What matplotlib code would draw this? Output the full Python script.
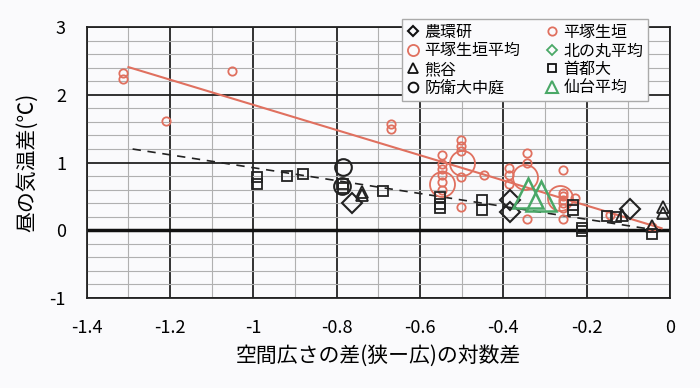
import matplotlib.pyplot as plt
from matplotlib.lines import Line2D
from matplotlib.ticker import MultipleLocator

plt.rcParams['font.family'] = ['Noto Sans CJK JP', 'DejaVu Sans']

# 平塚生垣 (small red circles)
hira_x = [-1.313, -1.313, -1.21, -1.051, -0.67, -0.67,
          -0.547, -0.547, -0.547, -0.547, -0.547, -0.547,
          -0.502, -0.502, -0.502, -0.502, -0.502, -0.446,
          -0.386, -0.386, -0.386, -0.343, -0.343, -0.343,
          -0.257, -0.257, -0.257, -0.257, -0.257, -0.257, -0.257, -0.228,
          -0.145, -0.043]
hira_y = [2.33, 2.24, 1.62, 2.35, 1.57, 1.50,
          1.11, 0.98, 0.90, 0.82, 0.71, 0.60,
          1.33, 1.25, 1.17, 0.78, 0.34, 0.81,
          0.92, 0.81, 0.69, 1.14, 1.00, 0.16,
          0.89, 0.55, 0.50, 0.45, 0.40, 0.33, 0.16, 0.47,
          0.22, 0.05]

# 平塚生垣平均 (large red circles)
hira_avg_x = [-0.547, -0.500, -0.348, -0.264]
hira_avg_y = [0.69, 1.00, 0.78, 0.47]

# 北の丸平均 (no visible point)
kita_x = []
kita_y = []

# 農環研
nou_x = [-0.763, -0.384, -0.384, -0.096]
nou_y = [0.40, 0.44, 0.27, 0.32]

# 熊谷
kuma_x = [-0.74, -0.74, -0.116, -0.043, -0.017, -0.017]
kuma_y = [0.57, 0.52, 0.22, 0.07, 0.34, 0.25]

# 首都大
shu_x = [-0.991, -0.991, -0.92, -0.88, -0.785, -0.785, -0.69,
         -0.552, -0.552, -0.552, -0.45, -0.45,
         -0.233, -0.233, -0.21, -0.21, -0.15, -0.13, -0.043]
shu_y = [0.79, 0.68, 0.80, 0.83, 0.69, 0.62, 0.58,
         0.49, 0.39, 0.33, 0.44, 0.30,
         0.38, 0.30, 0.03, -0.01, 0.21, 0.20, -0.05]

# 防衛大中庭
bou_x = [-0.785, -0.787]
bou_y = [0.93, 0.65]

# 仙台平均
sen_x = [-0.34, -0.31]
sen_y = [0.55, 0.50]

# trend lines
red_line_x = [-1.30, -0.02]
red_line_y = [2.41, 0.03]
dash_line_x = [-1.29, -0.04]
dash_line_y = [1.20, 0.01]

x_ticks = [-1.4, -1.2, -1.0, -0.8, -0.6, -0.4, -0.2, 0.0]
x_labels = ['-1.4', '-1.2', '-1', '-0.8', '-0.6', '-0.4', '-0.2', '0']
y_ticks = [-1, 0, 1, 2, 3]

red = '#e0705f'
green = '#4aa867'

fig = plt.figure(figsize=(7, 3.88), dpi=100, facecolor='#fafafc')
ax = fig.add_axes([0.124, 0.232, 0.833, 0.698])
ax.set_facecolor('#fafafc')

ax.set_xticks(x_ticks)
ax.set_xticklabels(x_labels)
ax.set_yticks(y_ticks)
ax.set_yticklabels([str(v) for v in y_ticks])
ax.xaxis.set_minor_locator(MultipleLocator(0.1))
ax.yaxis.set_minor_locator(MultipleLocator(0.2))
ax.set_xlim(-1.4, 0)
ax.set_ylim(-1, 3)
ax.grid(which='minor', color='#b0b0b0', linewidth=0.8)
ax.grid(which='major', color='#222222', linewidth=1.3)
ax.axhline(0, color='#111111', linewidth=2.5, zorder=1)
ax.set_axisbelow(True)
for s in ax.spines.values():
    s.set_color('#222222')
    s.set_linewidth(1.3)
ax.tick_params(which='both', length=0, labelsize=13, pad=15)

ax.plot(red_line_x, red_line_y, color=red, linewidth=1.5, zorder=2)
ax.plot(dash_line_x, dash_line_y, color='#222222', linewidth=1.2, linestyle=(0, (5, 4)), zorder=2)

ax.plot(hira_x, hira_y, 'o', ms=6, mfc='none', mec=red, mew=1.3, zorder=3)
ax.plot(hira_avg_x, hira_avg_y, 'o', ms=18, mfc='none', mec=red, mew=1.3, zorder=3)
ax.plot(kita_x, kita_y, 'D', ms=6, mfc='none', mec=green, mew=1.3, zorder=3)
ax.plot(nou_x, nou_y, 'D', ms=10, mfc='none', mec='#222222', mew=1.5, zorder=4)
ax.plot(kuma_x, kuma_y, '^', ms=8, mfc='none', mec='#222222', mew=1.3, zorder=4)
ax.plot(shu_x, shu_y, 's', ms=6.5, mfc='none', mec='#222222', mew=1.3, zorder=4)
ax.plot(bou_x, bou_y, 'o', ms=12, mfc='none', mec='#222222', mew=1.5, zorder=4)
ax.plot(sen_x, sen_y, '^', ms=22, mfc='none', mec=green, mew=1.8, zorder=5)

handles = [
    Line2D([], [], marker='D', ls='none', ms=5, mfc='none', mec='#111111', mew=1.5, label='農環研'),
    Line2D([], [], marker='o', ls='none', ms=8, mfc='none', mec=red, mew=1.3, label='平塚生垣平均'),
    Line2D([], [], marker='^', ls='none', ms=7, mfc='none', mec='#111111', mew=1.3, label='熊谷'),
    Line2D([], [], marker='o', ls='none', ms=7, mfc='none', mec='#111111', mew=1.4, label='防衛大中庭'),
    Line2D([], [], marker='o', ls='none', ms=6, mfc='none', mec=red, mew=1.3, label='平塚生垣'),
    Line2D([], [], marker='D', ls='none', ms=5, mfc='none', mec=green, mew=1.3, label='北の丸平均'),
    Line2D([], [], marker='s', ls='none', ms=6, mfc='none', mec='#111111', mew=1.3, label='首都大'),
    Line2D([], [], marker='^', ls='none', ms=8, mfc='none', mec=green, mew=1.5, label='仙台平均'),
]
leg = fig.legend(handles=handles, ncol=2, loc='upper left', bbox_to_anchor=(0.563, 0.972),
                 fontsize=11.5, frameon=True, fancybox=False, edgecolor='#aaaaaa',
                 framealpha=1, facecolor='#fafafc', handlelength=0.8, handletextpad=0.3,
                 columnspacing=1.6, labelspacing=0.1, borderpad=0.3)

ax.set_xlabel('空間広さの差(狭ー広)の対数差', fontsize=15, labelpad=6)
ax.set_ylabel('昼の気温差(℃)', fontsize=15, labelpad=8)

fig.savefig('out.png', dpi=100, facecolor=fig.get_facecolor())
